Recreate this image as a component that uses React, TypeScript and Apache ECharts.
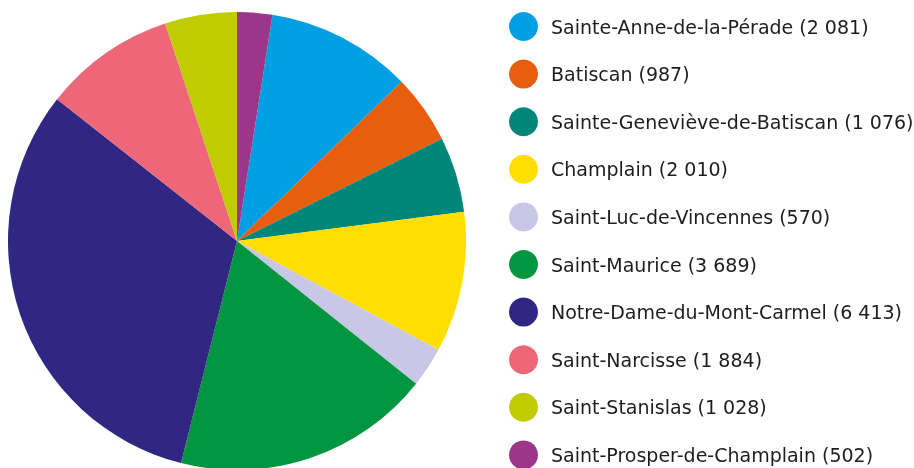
import React, { useEffect, useRef } from "react";
import * as echarts from "echarts";

const municipalities = [
  "Sainte-Anne-de-la-Pérade",
  "Batiscan",
  "Sainte-Geneviève-de-Batiscan",
  "Champlain",
  "Saint-Luc-de-Vincennes",
  "Saint-Maurice",
  "Notre-Dame-du-Mont-Carmel",
  "Saint-Narcisse",
  "Saint-Stanislas",
  "Saint-Prosper-de-Champlain",
];
const population = [2081, 987, 1076, 2010, 570, 3689, 6413, 1884, 1028, 502];
const colors = [
  "#009fe3",
  "#e95d0f",
  "#00877a",
  "#ffde00",
  "#cac6e6",
  "#00963f",
  "#312783",
  "#ed6778",
  "#bfcd00",
  "#9b3689",
];

function fmt(n: number): string {
  return String(n).replace(/\B(?=(\d{3})+(?!\d))/g, " ");
}

export default function App() {
  const ref = useRef<HTMLDivElement>(null);
  useEffect(() => {
    if (!ref.current) return;
    const chart = echarts.init(ref.current, undefined, { renderer: "svg" });
    const total = population.reduce((a, b) => a + b, 0);
    const lastShare = (population[population.length - 1] / total) * 360;
    const lookup: Record<string, number> = {};
    municipalities.forEach((m, i) => (lookup[m] = population[i]));
    chart.setOption({
      animation: false,
      color: colors,
      legend: {
        orient: "vertical",
        left: 509,
        top: 12,
        height: 600,
        padding: 0,
        itemWidth: 29,
        itemHeight: 29,
        itemGap: 18.6,
        icon: "circle",
        data: municipalities,
        formatter: (name: string) => `${name} (${fmt(lookup[name])})`,
        textStyle: {
          fontFamily: "'DejaVu Sans', sans-serif",
          fontSize: 19,
          color: "#1d1d1b",
          padding: [0, 0, 0, 8],
        },
      },
      series: [
        {
          type: "pie",
          center: [237, 241],
          radius: 229,
          startAngle: 90 - lastShare,
          clockwise: true,
          label: { show: false },
          labelLine: { show: false },
          itemStyle: { borderWidth: 0 },
          emphasis: { disabled: true },
          data: municipalities.map((m, i) => ({ name: m, value: population[i] })),
        },
      ],
    });
    return () => chart.dispose();
  }, []);
  return (
    <div
      ref={ref}
      style={{ position: "fixed", left: 0, top: 0, width: 914, height: 468 }}
    />
  );
}
